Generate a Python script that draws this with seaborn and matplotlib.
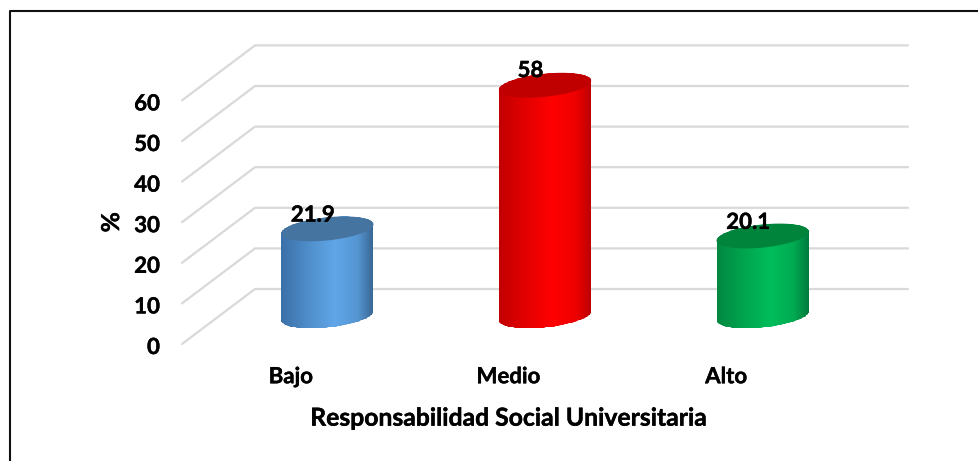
import numpy as np
import seaborn as sns
import matplotlib
matplotlib.use("Agg")
import matplotlib.pyplot as plt
import matplotlib.patheffects as pe
from matplotlib.path import Path
from matplotlib.patches import PathPatch
from matplotlib.transforms import Affine2D
from matplotlib.colors import to_rgb

categories = ["Bajo", "Medio", "Alto"]
values = [21.9, 58, 20.1]
value_labels = ["21.9", "58", "20.1"]
y_ticks = [0, 10, 20, 30, 40, 50, 60]
x_title = "Responsabilidad Social Universitaria"
y_title = "%"

body_edge_left = ["#3A6EA5", "#C00000", "#00853F"]
body_mid = ["#5FA6E8", "#FF0000", "#00BD5A"]
body_edge_right = ["#355F8A", "#B80000", "#00753A"]
cap_colors = ["#44749F", "#C00000", "#00843C"]

W, H = 979, 461
DPI = 100
sns.set_theme(style="white")
plt.rcParams["font.family"] = ["Lato", "DejaVu Sans"]
plt.rcParams["font.weight"] = "bold"

fig = plt.figure(figsize=(W / DPI, H / DPI), dpi=DPI)
left, right, bottom_px, top_px = 182, 835, 344, 100.4
ax = fig.add_axes([left / W, 1 - bottom_px / H, (right - left) / W, (bottom_px - top_px) / H])
px_x = (right - left) / 3.0
px_y = (bottom_px - top_px) / 60.0
depth_x, depth_y = 73, 55

# frame
fig.add_artist(plt.Line2D([9.5 / W, 9.5 / W, 1],
                          [0, 1 - 11 / H, 1 - 11 / H],
                          color="#111111", lw=1.5, transform=fig.transFigure))

sns.barplot(x=categories, y=values, hue=categories, palette=body_mid, legend=False,
            width=92 / px_x, ax=ax, saturation=1, zorder=3)
ax.set_xlim(-0.5, 2.5)
ax.set_ylim(0, 60)

# walls
grid_color = "#D9D9D9"
dx, dy = depth_x / px_x, depth_y / px_y
for v in y_ticks:
    ax.plot([-0.5, -0.5 + dx, 2.5 + dx], [v, v + dy, v + dy], color=grid_color,
            lw=1.6, clip_on=False, zorder=1, solid_joinstyle="miter")

# cylinders: seaborn bar extents, moved to mid-depth with slight perspective shrink
base = Affine2D().translate(depth_x / 2, depth_y / 2 + 0.5)
shift = ax.transData + base
PERSPECTIVE = 0.98

A, B, TH = 46.4, 11.5, np.deg2rad(6)


def ellipse_pts(cx, cy, t):
    ex = A * np.cos(t) * np.cos(TH) - B * np.sin(t) * np.sin(TH)
    ey = A * np.cos(t) * np.sin(TH) + B * np.sin(t) * np.cos(TH)
    return np.column_stack([cx + ex / px_x, cy + ey / px_y])


for i, bar in enumerate(list(ax.patches)):
    x0, w, h = bar.get_x(), bar.get_width(), bar.get_height() * PERSPECTIVE
    cx = x0 + w / 2
    bar.set_alpha(0)
    t_tan = np.arctan2(-B * np.sin(TH), A * np.cos(TH))  # rightmost point on the ellipse
    t_up = np.linspace(t_tan, t_tan + np.pi, 60)
    t_low = np.linspace(t_tan + np.pi, t_tan + 2 * np.pi, 60)
    outline = np.vstack([ellipse_pts(cx, h, t_up), ellipse_pts(cx, 0, t_low)])
    body = PathPatch(Path(np.vstack([outline, outline[:1]]), closed=True), transform=shift,
                     fc="none", ec="none", zorder=3, clip_on=False)
    ax.add_patch(body)
    cl, cm, cr = np.array(to_rgb(body_edge_left[i])), np.array(to_rgb(body_mid[i])), np.array(to_rgb(body_edge_right[i]))
    pos = np.linspace(0, 1, 129)
    grad = np.stack([np.interp(pos, [0, 0.3, 0.58, 0.82, 1],
                               [cl[c], 0.45 * cl[c] + 0.55 * cm[c], cm[c],
                                0.25 * cr[c] + 0.75 * cm[c], cr[c]]) for c in range(3)], axis=-1)
    xs = np.linspace(x0 - 0.01, x0 + w + 0.01, 130)
    mesh = ax.pcolormesh(xs, [-5, h + 6], grad[None, :, :], shading="flat", zorder=3,
                         transform=shift, antialiased=False)
    mesh.set_clip_path(body)
    mesh.set_clip_box(None)
    cap = PathPatch(Path(ellipse_pts(cx, h, np.linspace(0, 2 * np.pi, 120)), closed=True),
                    transform=shift, fc=cap_colors[i], ec="none", zorder=4, clip_on=False)
    ax.add_patch(cap)
ax.set_xlim(-0.5, 2.5)
ax.set_ylim(0, 60)

stroke = [pe.withStroke(linewidth=0.3, foreground="black")]

# value labels
label_rise = [40, 38, 40]
for i, (v, lab) in enumerate(zip(values, value_labels)):
    ax.annotate(lab, xy=(i, v), xytext=(22, label_rise[i]), textcoords="offset pixels",
                ha="center", va="center", fontsize=16, fontweight="bold", color="black",
                zorder=6, annotation_clip=False, path_effects=stroke)

for s in ax.spines.values():
    s.set_visible(False)
ax.patch.set_alpha(0)
ax.set_yticks(y_ticks)
ax.set_yticklabels([str(v) for v in y_ticks])
ax.tick_params(axis="y", length=0, pad=16, labelsize=16, labelcolor="black")
ax.tick_params(axis="x", length=0, pad=16, labelsize=16, labelcolor="black")
for lab in ax.get_xticklabels() + ax.get_yticklabels():
    lab.set_fontweight("bold")
    lab.set_path_effects(stroke)
for lab in ax.get_yticklabels():
    lab.set_transform(lab.get_transform() + Affine2D().translate(0, -1.5))
ax.set_xlabel(x_title, fontsize=17.8, fontweight="bold", color="black", labelpad=14, path_effects=stroke)
ax.set_ylabel(y_title, fontsize=17.8, fontweight="bold", color="black", labelpad=8, path_effects=stroke)

fig.savefig("out.png", dpi=DPI, facecolor="white")
